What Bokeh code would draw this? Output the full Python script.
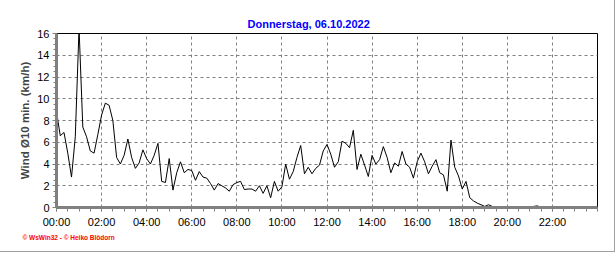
from bokeh.plotting import figure
from bokeh.models import FixedTicker, Range1d, Title
from bokeh.embed import file_html
from bokeh.resources import INLINE

# Wind (10-min mean, km/h), one value every 10 minutes from 00:00
wind = [
    8.8, 6.6, 6.9, 5.0, 2.8, 6.5, 16.5, 7.4, 6.5, 5.2,
    5.0, 6.7, 8.5, 9.6, 9.4, 8.0, 4.6, 4.0, 4.8, 6.3,
    4.6, 3.6, 4.1, 5.3, 4.5, 4.0, 4.8, 5.9, 2.4, 2.3,
    4.5, 1.6, 3.2, 4.2, 3.2, 3.5, 3.4, 2.5, 3.3, 2.8,
    2.7, 2.2, 1.6, 2.2, 2.0, 1.8, 1.5, 2.1, 2.3, 2.4,
    1.65, 1.7, 1.7, 1.5, 2.0, 1.3, 2.0, 0.9, 2.4, 1.5,
    1.9, 4.0, 2.6, 3.3, 4.6, 5.7, 3.1, 3.7, 3.1, 3.6,
    3.9, 5.2, 5.8, 4.9, 3.7, 4.2, 6.1, 5.9, 5.5, 7.1,
    3.5, 4.9, 3.9, 2.85, 4.8, 4.0, 4.4, 5.6, 4.6, 3.2,
    4.1, 3.8, 5.15, 4.0, 3.7, 2.7, 4.2, 5.0, 4.2, 3.1,
    3.8, 4.4, 3.2, 3.0, 1.5, 6.2, 3.7, 2.9, 1.7, 2.4,
    0.9, 0.6, 0.4, 0.25, 0.1, 0.25, 0.1, 0.0, 0.0, 0.0,
    0.0, 0.0, 0.0, 0.0, 0.0, 0.0, 0.0, 0.1, 0.15, 0.0,
    0.0, 0.0, 0.0, 0.0, 0.0, 0.0, 0.0, 0.0, 0.0, 0.0,
    0.0, 0.0, 0.0, 0.0,
]
step_minutes = 10
hours = [i * step_minutes / 60 for i in range(len(wind))]

x_ticks = [0, 2, 4, 6, 8, 10, 12, 14, 16, 18, 20, 22]
x_labels = ["00:00", "02:00", "04:00", "06:00", "08:00", "10:00",
            "12:00", "14:00", "16:00", "18:00", "20:00", "22:00"]
y_ticks = [0, 2, 4, 6, 8, 10, 12, 14, 16]

title_text = "Donnerstag, 06.10.2022"
y_label = "Wind \u00d810 min. (km/h)"
footer_text = "\u00a9 WsWin32  -  \u00a9 Heiko Bl\u00f6dorn"

FONT = "Liberation Sans"
GRAY = "#808080"

p = figure(width=615, height=252, output_backend="svg", toolbar_location=None,
           x_range=Range1d(0, 24), y_range=Range1d(0, 16),
           min_border_left=56, min_border_right=18, min_border_top=33,
           min_border_bottom=45)
p.styles = {"border-right": "1px solid #a0a0a0", "border-bottom": "1px solid #a0a0a0"}
p.background_fill_color = "white"
p.border_fill_color = "white"
p.outline_line_color = "black"
p.outline_line_width = 1

p.title.text = title_text
p.title.align = "left"
p.title.offset = 191
p.title.standoff = 8
p.title.text_color = "#0000ff"
p.title.text_font = FONT
p.title.text_font_style = "bold"
p.title.text_font_size = "11px"

for ax in (p.xaxis[0], p.yaxis[0]):
    ax.axis_line_color = GRAY
    ax.axis_line_width = 3
    ax.major_tick_line_color = GRAY
    ax.minor_tick_line_color = GRAY
    ax.major_tick_in = 0
    ax.minor_tick_in = 0
    ax.major_tick_out = 4
    ax.minor_tick_out = 3
    ax.major_label_text_font = FONT
    ax.major_label_text_font_size = "11px"
    ax.major_label_text_color = "black"

p.xaxis.ticker = FixedTicker(ticks=x_ticks,
                             minor_ticks=[i * 0.5 for i in range(49)])
p.xaxis.major_label_overrides = {t: l for t, l in zip(x_ticks, x_labels)}
p.xaxis.major_label_standoff = 4
p.xaxis.minor_tick_out = 4

p.yaxis.ticker = FixedTicker(ticks=y_ticks,
                             minor_ticks=[i * 0.5 for i in range(33)])
p.yaxis.major_label_standoff = 3
p.yaxis.axis_label = y_label
p.yaxis.axis_label_text_font = FONT
p.yaxis.axis_label_text_font_style = "bold"
p.yaxis.axis_label_text_font_size = "11.5px"
p.yaxis.axis_label_standoff = 3

for g in (p.xgrid[0], p.ygrid[0]):
    g.grid_line_color = GRAY
    g.grid_line_width = 1
    g.grid_line_dash = "3 3"
p.xgrid.ticker = FixedTicker(ticks=x_ticks + [24])
p.ygrid.ticker = FixedTicker(ticks=y_ticks)

p.line(hours, wind, line_color="black", line_width=1)

footer = Title(text=footer_text, align="left", offset=-34, standoff=2,
               text_color="#ff0000", text_font=FONT, text_font_style="bold",
               text_font_size="6.5px")
p.add_layout(footer, "below")

open("out.html", "w").write(file_html(p, INLINE))
